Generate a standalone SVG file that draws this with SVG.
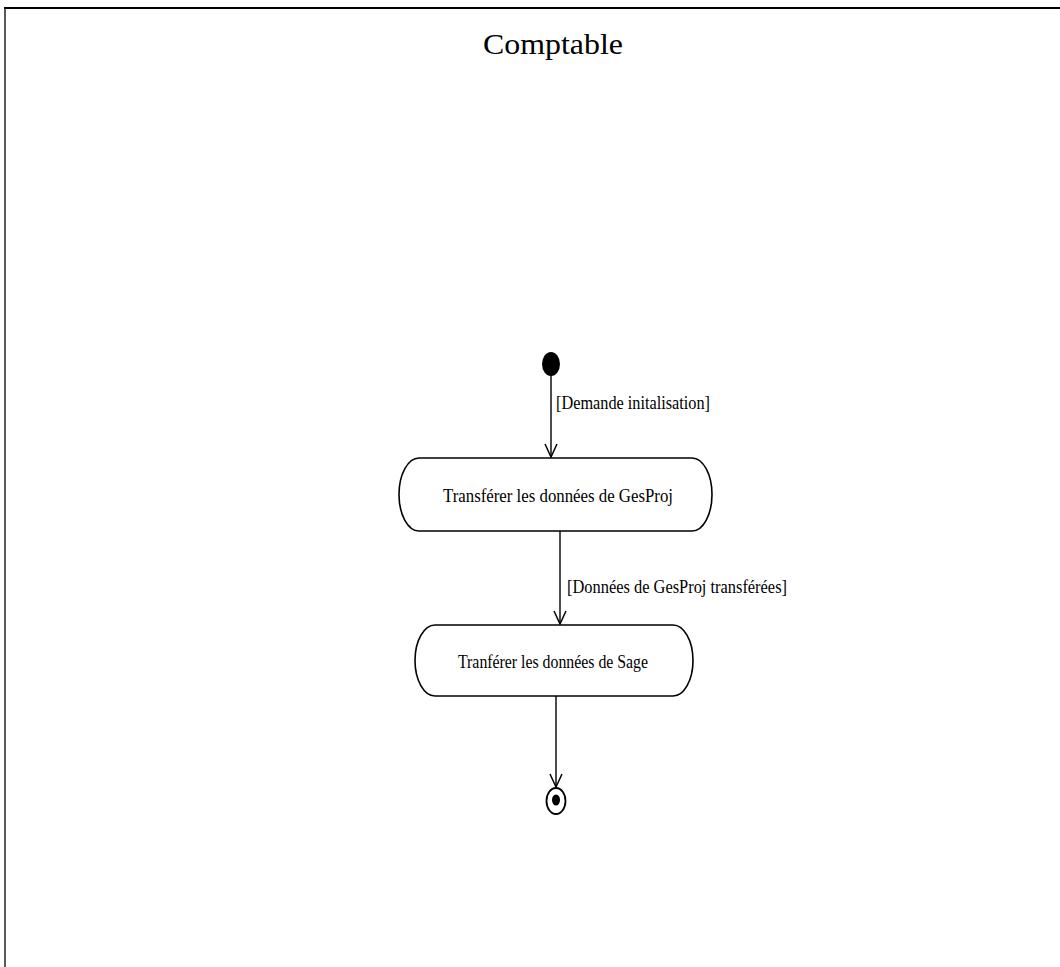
<svg xmlns="http://www.w3.org/2000/svg" width="1060" height="967" viewBox="0 0 1060 967">
<defs>
<style>
.act{fill:#fff;stroke:#000;stroke-width:1.6}
.lbl{font-family:"Liberation Serif",serif;font-size:18px;fill:#000}
.conn{stroke:#000;stroke-width:1.4;fill:none}
</style>
<marker id="arr" markerUnits="userSpaceOnUse" markerWidth="16" markerHeight="16" viewBox="-15 -8 16 16" refX="0" refY="0" orient="auto">
<path d="M-13,-6 L0,0 L-13,6" fill="none" stroke="#000" stroke-width="1.5"/>
</marker>
</defs>
<rect width="1060" height="967" fill="#fff"/>
<g id="frame">
<line x1="4" y1="8" x2="1060" y2="8" stroke="#000" stroke-width="2"/>
<line x1="5" y1="8" x2="5" y2="967" stroke="#222" stroke-width="1.5"/>
<text x="553" y="54" text-anchor="middle" font-family="Liberation Serif, serif" font-size="29" textLength="140" lengthAdjust="spacingAndGlyphs">Comptable</text>
</g>
<g id="connectors">
<line class="conn" x1="551" y1="375" x2="551" y2="457" marker-end="url(#arr)"/>
<text class="lbl" x="556" y="409" textLength="154" lengthAdjust="spacingAndGlyphs">[Demande initalisation]</text>
<line class="conn" x1="560" y1="531" x2="560" y2="624" marker-end="url(#arr)"/>
<text class="lbl" x="567" y="593" textLength="220" lengthAdjust="spacingAndGlyphs">[Données de GesProj transférées]</text>
<line class="conn" x1="556" y1="696" x2="556" y2="787" marker-end="url(#arr)"/>
</g>
<g id="start">
<ellipse cx="551" cy="364" rx="9" ry="12" fill="#000"/>
</g>
<g id="act1">
<path class="act" d="M419,458 H692 A20 36.5 0 0 1 692,531 H419 A20 36.5 0 0 1 419,458 Z"/>
<text class="lbl" x="558" y="502" text-anchor="middle" textLength="230" lengthAdjust="spacingAndGlyphs">Transférer les données de GesProj</text>
</g>
<g id="act2">
<path class="act" d="M435,625 H673 A20 35.5 0 0 1 673,696 H435 A20 35.5 0 0 1 435,625 Z"/>
<text class="lbl" x="553" y="668" text-anchor="middle" textLength="190" lengthAdjust="spacingAndGlyphs">Tranférer les données de Sage</text>
</g>
<g id="end">
<ellipse cx="556" cy="801" rx="9.5" ry="13" fill="#fff" stroke="#000" stroke-width="1.8"/>
<ellipse cx="556" cy="800" rx="4" ry="5.5" fill="#000"/>
</g>
</svg>
